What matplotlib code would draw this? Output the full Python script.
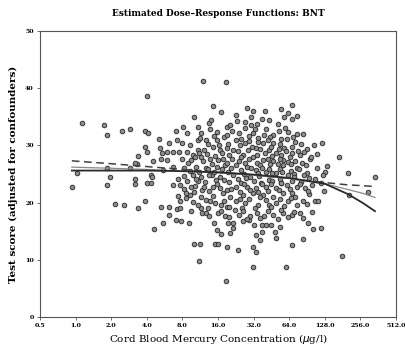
import numpy as np
import matplotlib
matplotlib.use("Agg")
import matplotlib.pyplot as plt

# cord blood mercury (ug/l) and adjusted BNT score, one line of mercury per line of score
mercury = [
    12.0, 4.0, 1.13, 1.75, 1.85, 2.45, 2.87, 3.89, 4.1, 5.07,
    3.9, 4.0, 3.35, 3.3, 1.02, 1.85, 1.94, 0.93, 1.85, 3.18,
    3.18, 4.0, 4.34, 4.34, 2.16, 2.57, 3.35, 3.89, 5.24, 6.16,
    6.16, 7.06, 7.84, 9.1, 5.5, 4.57, 9.98, 11.3, 11.0, 15.0,
    16.1, 6.7, 8.1, 9.98, 7.06,
    14.6, 10.9, 13.3, 13.6, 8.7, 11.6, 15.6, 18.9, 6.2, 7.2,
    7.9, 9.3, 10.9, 12.6, 15.6, 17.9, 5.2, 5.4, 5.9, 6.7,
    7.5, 8.7, 10.9, 12.2, 14.6, 16.6, 18.9, 5.3, 5.9, 7.9,
    9.5, 11.6, 13.6, 16.1, 4.55, 3.2, 2.88, 6.7, 8.2, 10.5,
    12.6, 15.6, 18.3, 8.2, 9.9, 11.6, 14.1, 16.6, 5.5, 4.4,
    67, 22.7, 28.3, 31.4, 30.3, 27.0, 30.3, 37.5, 67, 59,
    63, 74, 84, 47, 39.4, 20.2, 24.0, 31.8, 61.9, 47,
    67, 90, 79, 96, 133, 128, 72, 57, 38.5, 22.9,
    27, 33.3, 43, 49.8, 65, 21.5, 26.1, 31.8, 38.5, 47,
    57, 74, 90, 22.9, 28, 33.3, 40.6, 49.8, 63, 106,
    21.5, 30,
    7.2, 7.6, 7.4, 7.7, 9.5, 11.6, 11.8, 12.6, 14.9, 15.6,
    16.8, 18.9, 7.6, 9.5, 9.3, 10.0, 11.8, 11.6, 12.6, 13.6,
    14.6, 15.0, 12.2, 14.6, 16.6, 18.9, 16.1, 18.3, 19.5, 17.9,
    18.9, 8.5, 8.6, 10.9,
    31.4, 60.5, 23.5, 31.8, 33.3, 67, 83, 101, 118, 92,
    99, 106, 112, 20.2, 21.3, 21.5, 26.1, 29, 32.5, 37.5,
    40.6, 45, 38, 33.3, 35.9, 48.5, 53.8, 49.8, 22.3, 24,
    30, 39.4, 47, 57, 67, 70, 79, 63, 49.8, 43,
    35, 27, 22.9, 26.1, 31.8, 38.5, 47, 57, 72, 84,
    22.9, 28, 33.3, 40.6, 49.8, 61, 74, 87, 20.2,
    18.7, 97, 169, 200, 338, 295, 207, 180, 18.7, 124,
    110, 118, 125, 100, 95, 110, 121, 104,
    19, 21, 25, 27, 29, 33, 35, 41, 44, 52,
    55, 69, 23, 34, 43, 51, 58, 14, 17, 40, 55, 62, 75,
    19.5, 24.5, 29, 31, 35, 42, 45, 53, 58, 71,
    80, 13.2, 11.3, 14.8, 16.3,
    9.8, 11, 13, 15, 17.3, 20, 23.5, 25, 28.5, 34.5,
    36.5, 40, 45.5, 52, 55, 60, 68, 76, 86,
    9, 10.2, 12, 14.2, 17.5, 19.2, 21, 24, 27, 29.5,
    34, 36, 42, 44, 51, 54, 62, 66, 82, 88,
    9.3, 11.0, 13.1, 14.8, 17.2, 19.5, 20.5, 25, 26.5, 30.5,
    35, 38, 43.5, 46, 53, 56, 66, 70, 78, 85,
    7.3, 8.8, 10.5, 12.4, 13.3, 15.4, 18, 19.8, 23.5, 25,
    27.5, 32, 35.5, 37, 43, 46, 53, 55, 67, 70, 80, 95,
    8.2, 10.3, 13.5, 15.8, 17.5, 20.8, 24.5, 26.5, 30, 35,
    37.5, 42, 45, 52, 54.5, 65, 68, 79, 92,
    9.8, 10.8, 13.2, 17, 19.8, 24.5, 25.5, 29, 33, 36.5,
    41, 45, 54, 58, 66, 75, 90,
    13.5, 17, 20, 26, 28, 34.5, 36, 42, 51, 55, 62, 84,
]
score = [
    41.3, 38.6, 34.0, 33.6, 31.8, 32.5, 32.9, 32.6, 32.2, 31.2,
    29.7, 28.9, 28.1, 26.7, 25.1, 26.0, 24.5, 22.8, 23.0, 24.1,
    23.2, 23.5, 24.8, 23.4, 19.8, 19.5, 19.0, 20.2, 19.2, 19.2,
    17.8, 17.0, 16.7, 16.4, 16.4, 15.3, 12.8, 12.8, 9.8, 12.8,
    12.8, 23.1, 33.3, 35.0, 32.6,
    36.9, 33.3, 33.9, 32.8, 32.1, 32.1, 32.4, 33.3, 30.4, 30.9,
    30.4, 30.1, 30.9, 30.9, 30.9, 31.5, 29.5, 28.6, 28.9, 28.9,
    28.9, 28.9, 29.2, 29.2, 29.8, 29.2, 29.5, 27.7, 27.4, 27.7,
    27.4, 28.0, 27.7, 27.4, 27.2, 26.9, 26.0, 26.3, 26.0, 26.3,
    26.0, 26.3, 26.6, 24.7, 24.8, 24.4, 24.8, 24.5, 25.7, 24.5,
    37.1, 35.3, 36.5, 36.1, 35.0, 34.1, 33.6, 34.6, 34.7, 33.0,
    32.4, 32.0, 32.0, 31.8, 31.8, 33.6, 32.1, 32.1, 31.1, 30.4,
    29.8, 29.3, 28.3, 27.7, 26.4, 25.4, 27.2, 27.4, 30.4, 30.9,
    30.4, 29.5, 29.2, 28.6, 28.0, 29.2, 28.3, 28.0, 27.4, 27.2,
    26.6, 26.0, 25.1, 26.6, 26.3, 25.7, 25.4, 25.1, 24.8, 24.2,
    24.8, 24.5,
    18.8, 20.2, 21.2, 19.0, 18.6, 19.0, 18.1, 18.1, 16.4, 15.2,
    14.5, 12.3, 23.1, 22.8, 21.3, 21.9, 22.2, 21.0, 20.5, 20.2,
    21.2, 19.9, 22.8, 22.8, 22.5, 22.2, 18.1, 17.6, 16.4, 20.2,
    19.3, 21.6, 20.8, 23.7,
    8.7, 8.7, 11.8, 12.3, 11.4, 12.6, 13.6, 15.3, 15.5, 16.4,
    18.3, 20.3, 20.3, 14.6, 16.5, 15.5, 16.7, 17.0, 16.1, 16.1,
    16.1, 16.1, 14.9, 14.3, 13.5, 14.9, 15.8, 13.8, 18.7, 17.8,
    17.7, 17.7, 17.8, 18.1, 17.8, 18.4, 18.1, 20.2, 19.9, 19.6,
    19.6, 19.9, 20.2, 21.3, 21.6, 21.3, 21.0, 21.6, 21.0, 20.2,
    22.8, 22.8, 22.5, 22.8, 22.5, 23.1, 22.8, 22.5, 21.0,
    41.0, 27.9, 27.9, 25.1, 24.4, 21.8, 21.3, 10.7, 6.3, 24.8,
    26.0, 23.5, 22.0, 23.0, 21.5, 28.5, 30.5, 30.0,
    31.8, 32.6, 31.2, 33.0, 31.6, 32.8, 31.3, 32.9, 31.5, 32.6,
    31.2, 31.4, 34.2, 33.8, 34.4, 33.7, 34.9, 34.5, 35.8, 36.0, 36.4, 35.6, 35.2,
    30.2, 30.0, 30.8, 29.7, 30.6, 30.9, 29.8, 30.2, 29.6, 30.6,
    30.2, 30.3, 31.3, 31.7, 30.0,
    28.3, 28.6, 28.5, 28.1, 28.7, 28.4, 29.0, 27.9, 29.2, 28.4,
    29.3, 28.6, 28.1, 29.3, 28.4, 29.0, 28.6, 29.1, 28.9,
    27.0, 27.9, 27.2, 26.8, 27.6, 26.9, 27.7, 27.2, 26.9, 27.6,
    27.0, 26.6, 27.7, 26.8, 26.7, 27.6, 27.1, 26.8, 27.0, 26.5,
    25.6, 25.3, 25.9, 25.4, 25.8, 25.3, 26.1, 25.7, 25.0, 26.0,
    25.2, 26.1, 25.8, 25.1, 25.9, 25.3, 25.6, 25.0, 25.8, 24.9,
    24.2, 23.7, 24.1, 23.6, 24.9, 23.9, 24.0, 23.6, 24.1, 23.4,
    24.3, 23.8, 24.6, 23.5, 24.0, 23.7, 24.1, 23.4, 23.8, 24.5, 23.6, 24.3,
    22.4, 22.9, 22.0, 23.2, 21.7, 22.4, 21.8, 23.2, 22.2, 21.9,
    23.2, 22.0, 23.3, 22.2, 23.5, 22.3, 21.6, 23.2, 22.0,
    20.1, 19.6, 19.1, 19.6, 19.2, 20.6, 19.1, 20.7, 19.1, 20.9,
    20.4, 19.3, 20.6, 19.4, 20.8, 19.6, 19.8,
    17.6, 18.5, 17.4, 18.6, 17.2, 18.2, 17.3, 18.5, 17.2, 18.7, 17.5, 17.3,
]

# fitted dose-response curves, read at these mercury levels
curve_hg = [0.93, 2, 4, 8, 16, 32, 64, 128, 200, 270, 340]
fit_dashed = [27.3, 26.8, 26.3, 25.8, 25.3, 24.8, 24.2, 23.5, 23.1, 22.95, 22.8]
fit_thin = [26.2, 26.0, 25.8, 25.5, 25.2, 24.8, 24.2, 23.3, 22.3, 21.6, 20.9]
fit_thick = [25.6, 25.6, 25.6, 25.5, 25.3, 24.9, 24.3, 23.3, 21.5, 19.9, 18.5]

xticks = [0.5, 1, 2, 4, 8, 16, 32, 64, 128, 256, 512]
yticks = [0, 10, 20, 30, 40, 50]

plt.rcParams['font.family'] = ['DejaVu Serif']

fig = plt.figure(figsize=(4.05, 3.5), dpi=100)
ax = fig.add_axes([40 / 405, 33 / 350, 356 / 405, 286 / 350])

ax.scatter(mercury, score, s=11, facecolors='#8e8e8e', edgecolors='#2e2e2e',
           linewidths=0.65, zorder=2)
ax.plot(curve_hg, fit_dashed, color='#404040', lw=1.1, ls=(0, (5, 3)), zorder=3)
ax.plot(curve_hg, fit_thin, color='#8a8a8a', lw=0.9, zorder=3)
ax.plot(curve_hg, fit_thick, color='#2a2a2a', lw=1.3, zorder=3)

ax.set_xscale('log', base=2)
ax.set_xlim(0.5, 512)
ax.set_ylim(0, 50)
ax.set_xticks(xticks)
ax.set_xticklabels(['%.1f' % t for t in xticks])
ax.minorticks_off()
ax.set_yticks(yticks)
ax.tick_params(labelsize=4.5, length=2.5, width=0.6, color='#555555', pad=2)
for lab in ax.get_xticklabels() + ax.get_yticklabels():
    lab.set_fontweight('bold')
for sp in ax.spines.values():
    sp.set_color('#555555')
    sp.set_linewidth(0.8)

ax.set_title('Estimated Dose\u2013Response Functions: BNT', fontsize=6.5,
             fontweight='bold', pad=11)
ax.set_xlabel('Cord Blood Mercury Concentration ($\\mu$g/l)', fontsize=7.5, labelpad=3)
ax.set_ylabel('Test score (adjusted for confounders)', fontsize=7.5,
              fontweight='bold', labelpad=5)

fig.savefig('out.png', dpi=100)
